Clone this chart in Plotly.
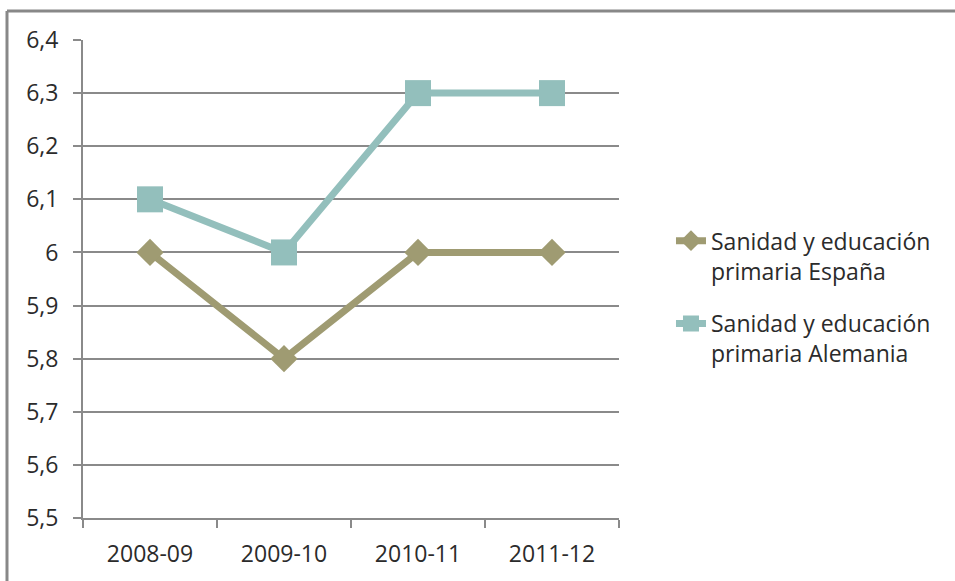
import plotly.graph_objects as go

categories = ["2008-09", "2009-10", "2010-11", "2011-12"]
espana = [6.0, 5.8, 6.0, 6.0]
alemania = [6.1, 6.0, 6.3, 6.3]
y_ticks = [5.5, 5.6, 5.7, 5.8, 5.9, 6.0, 6.1, 6.2, 6.3, 6.4]

FONT = "Open Sans, Liberation Sans, sans-serif"
GRID = "#8a8a8a"
BORDER = "#888888"

fig = go.Figure()
fig.add_trace(go.Scatter(
    x=categories, y=espana, mode="lines+markers",
    name="Sanidad y educación<br>primaria España", legendgroup="a",
    line=dict(color="#9f9b72", width=7),
    marker=dict(symbol="diamond", size=21, color="#9f9b72"),
))
fig.add_trace(go.Scatter(
    x=categories, y=alemania, mode="lines+markers",
    name="Sanidad y educación<br>primaria Alemania", legendgroup="b",
    line=dict(color="#93bfbc", width=7),
    marker=dict(symbol="square", size=26, color="#93bfbc"),
))

fig.update_layout(
    width=955, height=581,
    margin=dict(l=83, r=336, t=40, b=63),
    paper_bgcolor="white", plot_bgcolor="white",
    separators=",.",
    font=dict(family=FONT, size=23, color="#2b2b2b"),
    showlegend=True,
    legend=dict(x=1.097, y=0.625, xanchor="left", yanchor="top",
                font=dict(size=23, color="#2b2b2b"), tracegroupgap=20,
                valign="top", bgcolor="rgba(0,0,0,0)"),
    xaxis=dict(type="category", range=[-0.5, 3.5], showgrid=False,
               showline=True, linecolor=GRID, linewidth=2,
               ticks="outside", tickson="boundaries", ticklen=8,
               tickcolor=GRID, tickwidth=2, ticklabelstandoff=14),
    yaxis=dict(range=[5.5, 6.4], tickvals=y_ticks, showgrid=True,
               gridcolor=GRID, gridwidth=2, showline=True, linecolor=GRID,
               linewidth=2, ticks="outside", ticklen=8, tickcolor=GRID,
               tickwidth=2, zeroline=False, ticklabelstandoff=10),
    shapes=[
        dict(type="line", xref="paper", yref="paper",
             x0=-0.1418, x1=1.64, y0=1.0607, y1=1.0607,
             line=dict(color=BORDER, width=3), layer="below"),
        dict(type="line", xref="paper", yref="paper",
             x0=-0.1418, x1=-0.1418, y0=-0.14, y1=1.0607,
             line=dict(color=BORDER, width=3), layer="below"),
    ],
)

fig.write_html("out.html", config={"displayModeBar": False},
               post_script="document.body.style.margin='0';document.body.style.overflow='hidden';")
